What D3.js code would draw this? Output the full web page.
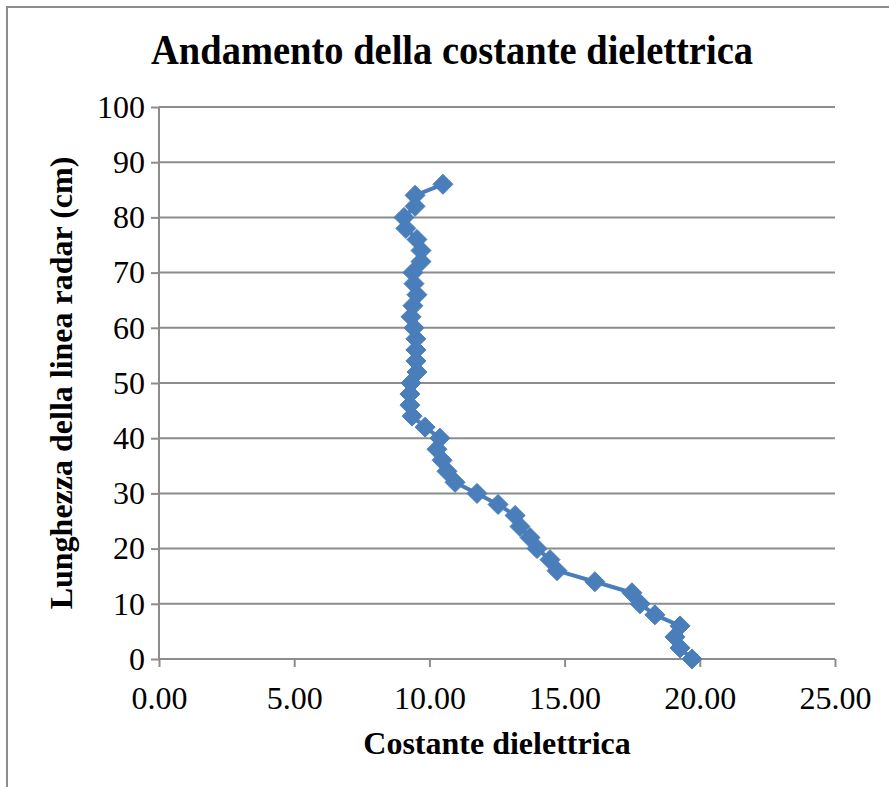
<!DOCTYPE html>
<html>
<head>
<meta charset="utf-8">
<script src="https://cdn.jsdelivr.net/npm/d3@7"></script>
<style>
  body { margin: 0; background: #fff; }
  text { font-family: "Liberation Serif", "Times New Roman", serif; fill: #000; }
</style>
</head>
<body>
<div class="chart"></div>
<script>
// chart values (lunghezza in cm, costante dielettrica)
var lunghezza = [0, 2, 4, 6, 8, 10, 12, 14, 16, 18, 20, 22, 24, 26, 28, 30, 32, 34, 36, 38, 40,
                 42, 44, 46, 48, 50, 52, 54, 56, 58, 60, 62, 64, 66, 68, 70, 72, 74, 76, 78, 80, 82, 84, 86];
var costante = [19.71, 19.27, 19.08, 19.27, 18.34, 17.79, 17.49, 16.12, 14.72, 14.46, 13.98, 13.72,
                13.35, 13.17, 12.54, 11.76, 10.95, 10.65, 10.47, 10.28, 10.39,
                9.84, 9.36, 9.28, 9.28, 9.32, 9.54, 9.50, 9.50, 9.50, 9.43, 9.32, 9.39, 9.54, 9.43, 9.39,
                9.69, 9.69, 9.54, 9.13, 9.06, 9.47, 9.47, 10.50];
var xTicks = [0, 5, 10, 15, 20, 25];
var yTicks = [0, 10, 20, 30, 40, 50, 60, 70, 80, 90, 100];

var width = 889;
var height = 787;
// plot area edges (px)
var plotL = 159, plotR = 835, plotT = 107, plotB = 659;

var svg = d3.select(".chart")
            .append("svg")
            .attr("width", width)
            .attr("height", height);

// outer frame
svg.append("rect")
   .attr("x", 7).attr("y", 7)
   .attr("width", width + 10).attr("height", height + 10)
   .attr("fill", "none")
   .attr("stroke", "#8c8c8c")
   .attr("stroke-width", 2);

var xScale = d3.scaleLinear().domain([0, 25]).range([plotL, plotR]);
var yScale = d3.scaleLinear().domain([0, 100]).range([plotB, plotT]);

// horizontal gridlines
svg.append("g")
   .selectAll("line")
   .data(yTicks.filter(d => d > 0))
   .enter()
   .append("line")
   .attr("x1", plotL).attr("x2", plotR)
   .attr("y1", d => yScale(d)).attr("y2", d => yScale(d))
   .attr("stroke", "#8c8c8c")
   .attr("stroke-width", 2);

var xAxis = d3.axisBottom(xScale)
              .tickValues(xTicks)
              .tickFormat(d3.format(".2f"))
              .tickSize(8);
var yAxis = d3.axisLeft(yScale)
              .tickValues(yTicks)
              .tickSize(8);

var gx = svg.append("g")
   .attr("transform", "translate(0," + plotB + ")")
   .call(xAxis);
var gy = svg.append("g")
   .attr("transform", "translate(" + plotL + ",0)")
   .call(yAxis);

[gx, gy].forEach(function(g) {
  g.select(".domain").attr("stroke", "#8c8c8c").attr("stroke-width", 2);
  g.selectAll(".tick line").attr("stroke", "#8c8c8c").attr("stroke-width", 2);
  g.selectAll(".tick text")
   .style("font-family", "'Liberation Serif', 'Times New Roman', serif")
   .style("font-size", "32px")
   .attr("fill", "#000");
});
gx.select(".domain").attr("d", "M" + plotL + ",0H" + plotR);
gy.select(".domain").attr("d", "M0," + plotB + "V" + plotT);
gx.selectAll(".tick text").attr("dy", null).attr("y", 50);
gy.selectAll(".tick text").attr("x", -14);

// data line
var pts = lunghezza.map((d, i) => [costante[i], d]);
var line = d3.line()
             .x(d => xScale(d[0]))
             .y(d => yScale(d[1]));
svg.append("path")
   .datum(pts)
   .attr("d", line)
   .attr("fill", "none")
   .attr("stroke", "#4a7ebb")
   .attr("stroke-width", 4)
   .attr("stroke-linejoin", "round");

// diamond markers
var s = 10;
svg.selectAll("path.marker")
   .data(pts)
   .enter()
   .append("path")
   .attr("class", "marker")
   .attr("d", "M0," + (-s) + "L" + s + ",0L0," + s + "L" + (-s) + ",0Z")
   .attr("transform", d => "translate(" + xScale(d[0]) + "," + yScale(d[1]) + ")")
   .attr("fill", "#4a7ebb")
   .attr("stroke", "#4a7ebb")
   .attr("stroke-width", 1);

// titles
svg.append("text")
   .attr("transform", "translate(452,64) scale(1,1.1)")
   .attr("text-anchor", "middle")
   .style("font-size", "38.5px")
   .style("font-weight", "bold")
   .text("Andamento della costante dielettrica");

svg.append("text")
   .attr("x", 497).attr("y", 754)
   .attr("text-anchor", "middle")
   .style("font-size", "32px")
   .style("font-weight", "bold")
   .text("Costante dielettrica");

svg.append("text")
   .attr("transform", "translate(72," + 383 + ") rotate(-90)")
   .attr("text-anchor", "middle")
   .style("font-size", "32px")
   .style("font-weight", "bold")
   .text("Lunghezza della linea radar (cm)");
</script>
</body>
</html>
